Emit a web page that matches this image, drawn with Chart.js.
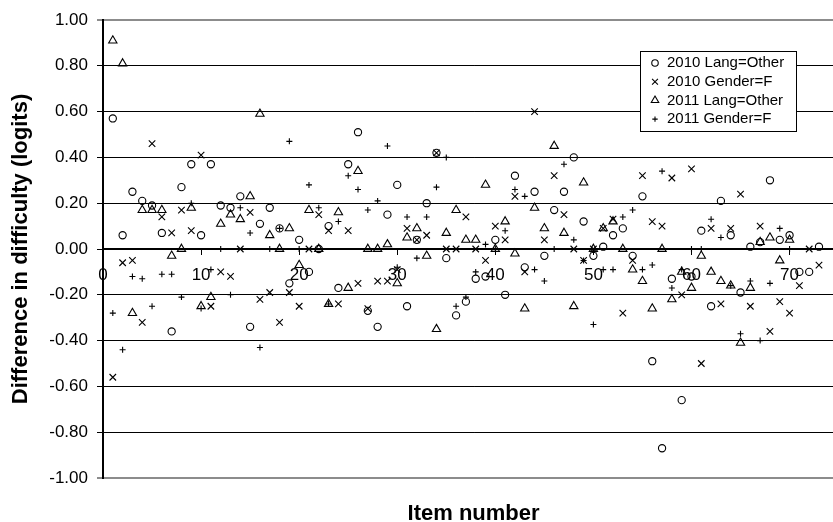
<!DOCTYPE html>
<html>
<head>
<meta charset="utf-8">
<script src="https://cdn.jsdelivr.net/npm/chart.js@4/dist/chart.umd.min.js"></script>
<style>
  html, body { margin: 0; padding: 0; overflow: hidden; background: #fff; }
  #wrap { width: 850px; height: 522px; }
</style>
</head>
<body>
<div id="wrap"><canvas id="c" width="850" height="522"></canvas></div>
<script>
// Item numbers (2010 has 73 items, 2011 has 70)
const itemNumbers = [
  1, 2, 3, 4, 5, 6, 7, 8, 9, 10, 11, 12, 13, 14, 15, 16, 17, 18, 19, 20,
  21, 22, 23, 24, 25, 26, 27, 28, 29, 30, 31, 32, 33, 34, 35, 36, 37, 38, 39, 40,
  41, 42, 43, 44, 45, 46, 47, 48, 49, 50, 51, 52, 53, 54, 55, 56, 57, 58, 59, 60,
  61, 62, 63, 64, 65, 66, 67, 68, 69, 70, 71, 72, 73
];

const seriesLabels = ['2010 Lang=Other', '2010 Gender=F', '2011 Lang=Other', '2011 Gender=F'];

// Difference in difficulty (logits) per item
const lang2010 = [
  0.57, 0.06, 0.25, 0.21, 0.19, 0.07, -0.36, 0.27, 0.37, 0.06,
  0.37, 0.19, 0.18, 0.23, -0.34, 0.11, 0.18, 0.09, -0.15, 0.04,
  -0.10, 0.00, 0.10, -0.17, 0.37, 0.51, -0.27, -0.34, 0.15, 0.28,
  -0.25, 0.04, 0.20, 0.42, -0.04, -0.29, -0.23, -0.13, -0.12, 0.04,
  -0.20, 0.32, -0.08, 0.25, -0.03, 0.17, 0.25, 0.40, 0.12, -0.03,
  0.01, 0.06, 0.09, -0.03, 0.23, -0.49, -0.87, -0.13, -0.66, -0.12,
  0.08, -0.25, 0.21, 0.06, -0.19, 0.01, 0.03, 0.30, 0.04, 0.06,
  -0.10, -0.10, 0.01
];
const gender2010 = [
  -0.56, -0.06, -0.05, -0.32, 0.46, 0.14, 0.07, 0.17, 0.08, 0.41,
  -0.25, -0.10, -0.12, 0.00, 0.16, -0.22, -0.19, -0.32, -0.19, -0.25,
  0.00, 0.15, 0.08, -0.24, 0.08, -0.15, -0.26, -0.14, -0.14, -0.09,
  0.09, 0.04, 0.06, 0.42, 0.00, 0.00, 0.14, 0.00, -0.05, 0.10,
  0.04, 0.23, -0.10, 0.60, 0.04, 0.32, 0.15, 0.00, -0.05, 0.00,
  0.09, 0.13, -0.28, -0.05, 0.32, 0.12, 0.10, 0.31, -0.20, 0.35,
  -0.50, 0.09, -0.24, 0.09, 0.24, -0.25, 0.10, -0.36, -0.23, -0.28,
  -0.16, 0.00, -0.07
];
const lang2011 = [
  0.91, 0.81, -0.28, 0.17, 0.17, 0.17, -0.03, 0.00, 0.18, -0.25,
  -0.21, 0.11, 0.15, 0.13, 0.23, 0.59, 0.06, 0.00, 0.09, -0.07,
  0.17, 0.00, -0.24, 0.16, -0.17, 0.34, 0.00, 0.00, 0.02, -0.15,
  0.05, 0.09, -0.03, -0.35, 0.07, 0.17, 0.04, 0.04, 0.28, 0.00,
  0.12, -0.02, -0.26, 0.18, 0.09, 0.45, 0.07, -0.25, 0.29, 0.00,
  0.09, 0.12, 0.00, -0.09, -0.14, -0.26, 0.00, -0.22, -0.10, -0.17,
  -0.03, -0.10, -0.14, -0.16, -0.41, -0.17, 0.03, 0.05, -0.05, 0.04
];
const gender2011 = [
  -0.28, -0.44, -0.12, -0.13, -0.25, -0.11, -0.11, -0.21, 0.20, -0.26,
  -0.09, 0.00, -0.20, 0.18, 0.07, -0.43, 0.00, 0.09, 0.47, 0.00,
  0.28, 0.18, -0.24, 0.12, 0.32, 0.26, 0.17, 0.21, 0.45, -0.08,
  0.14, -0.04, 0.14, 0.27, 0.40, -0.25, -0.21, -0.10, 0.02, 0.00,
  0.08, 0.26, 0.23, -0.09, -0.14, 0.00, 0.37, 0.04, -0.05, -0.33,
  -0.09, -0.09, 0.14, 0.17, -0.09, -0.07, 0.34, -0.17, -0.09, 0.00,
  0.00, 0.13, 0.05, -0.16, -0.37, -0.14, -0.40, -0.15, 0.09, 0.00
];

const FONT = "'Liberation Sans', Arial, Helvetica, sans-serif";
const X_MAX = 75.56;

function toPoints(values) {
  return values.map((v, i) => ({ x: itemNumbers[i], y: v }));
}

function series(label, values, style, radius) {
  return {
    label: label,
    data: toPoints(values),
    pointStyle: style,
    pointRadius: radius,
    pointHoverRadius: radius,
    pointBorderWidth: 1.1,
    borderColor: '#000',
    backgroundColor: 'rgba(0,0,0,0)',
    showLine: false
  };
}

// Boxed legend drawn inside the plot area, upper right
const insideLegend = {
  id: 'insideLegend',
  afterDraw(chart) {
    const ctx = chart.ctx;
    const bx = 640.5, by = 51.5, bw = 156, bh = 80;
    ctx.save();
    ctx.fillStyle = '#fff';
    ctx.fillRect(bx, by, bw, bh);
    ctx.strokeStyle = '#000';
    ctx.lineWidth = 1;
    ctx.strokeRect(bx, by, bw, bh);
    ctx.font = '15px ' + FONT;
    ctx.textBaseline = 'middle';
    ctx.textAlign = 'left';
    chart.data.datasets.forEach((ds, i) => {
      const y = 63 + i * 18.7;
      ctx.strokeStyle = '#000';
      ctx.fillStyle = 'rgba(0,0,0,0)';
      ctx.lineWidth = ds.pointBorderWidth;
      Chart.helpers.drawPoint(ctx, {
        pointStyle: ds.pointStyle,
        radius: ds.pointRadius * 0.9,
        rotation: 0,
        borderWidth: ds.pointBorderWidth
      }, 655, y);
      ctx.fillStyle = '#000';
      ctx.fillText(ds.label, 667, y);
    });
    ctx.restore();
  }
};

const isEdge = (ctx) => ctx.tick && Math.abs(Math.abs(ctx.tick.value) - 1) < 1e-6;

new Chart(document.getElementById('c'), {
  type: 'scatter',
  data: {
    datasets: [
      series(seriesLabels[0], lang2010, 'circle', 3.6),
      series(seriesLabels[1], gender2010, 'crossRot', 4.6),
      series(seriesLabels[2], lang2011, 'triangle', 4.8),
      series(seriesLabels[3], gender2011, 'cross', 3.0)
    ]
  },
  options: {
    responsive: false,
    animation: false,
    devicePixelRatio: 1,
    layout: { padding: { top: 20, left: 0, right: 0, bottom: 0 } },
    plugins: {
      legend: { display: false },
      tooltip: { enabled: false }
    },
    scales: {
      x: {
        type: 'linear',
        position: { y: 0 },
        min: 0,
        max: X_MAX,
        ticks: {
          stepSize: 10,
          includeBounds: false,
          maxRotation: 0,
          padding: 11,
          color: '#000',
          font: { family: FONT, size: 17 }
        },
        grid: { drawOnChartArea: false, drawTicks: true, tickLength: 5, color: '#000' },
        border: { display: true, color: '#000', width: 2 }
      },
      x2: {
        type: 'linear',
        position: 'bottom',
        min: 0,
        max: X_MAX,
        ticks: { display: false },
        grid: { display: false, drawTicks: false },
        border: { display: false },
        title: {
          display: true,
          text: 'Item number',
          color: '#000',
          padding: 0,
          font: { family: FONT, size: 22, weight: 'bold', lineHeight: 0.7 }
        },
        afterFit(scale) { scale.height = 44; }
      },
      y: {
        type: 'linear',
        position: 'left',
        min: -1,
        max: 1,
        ticks: {
          stepSize: 0.2,
          padding: 9,
          color: '#000',
          font: { family: FONT, size: 17 },
          callback: (v) => (Math.abs(v) < 1e-9 ? 0 : v).toFixed(2)
        },
        grid: {
          color: (ctx) => (isEdge(ctx) ? '#8c8c8c' : '#000'),
          lineWidth: (ctx) => (isEdge(ctx) ? 2 : 1),
          drawTicks: true,
          tickLength: 6
        },
        border: { display: true, color: '#000', width: 2 },
        title: {
          display: true,
          text: 'Difference in difficulty (logits)',
          color: '#000',
          padding: { top: 8, bottom: 0 },
          font: { family: FONT, size: 22, weight: 'bold' }
        },
        afterFit(scale) { scale.width = 103; }
      }
    }
  },
  plugins: [insideLegend]
});
</script>
</body>
</html>
